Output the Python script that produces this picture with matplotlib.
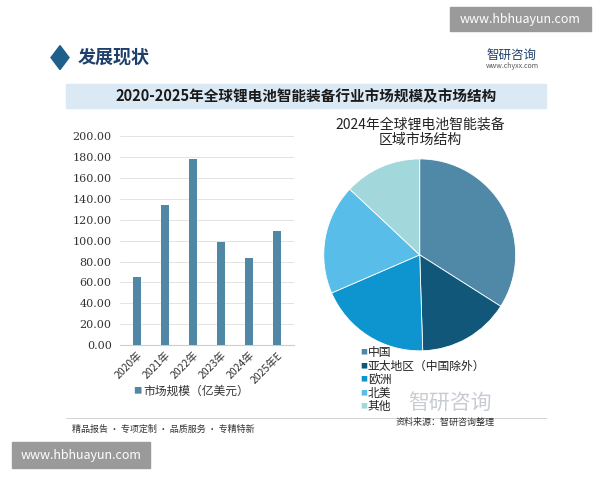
import matplotlib
matplotlib.use("Agg")
import matplotlib.pyplot as plt
from matplotlib.patches import Rectangle, Polygon

plt.rcParams["font.family"] = ["Noto Sans CJK SC", "DejaVu Sans"]

years = ["2020年", "2021年", "2022年", "2023年", "2024年", "2025年E"]
market_size = [65, 134, 178, 99, 83, 109]
regions = ["中国", "亚太地区（中国除外）", "欧洲", "北美", "其他"]
region_share = [34, 15.5, 19, 18.5, 13]
pie_colors = ["#5089a8", "#10577a", "#0e95cf", "#58bde8", "#a2d8dc"]

fig = plt.figure(figsize=(6, 4.8), dpi=100)
fig.patch.set_facecolor("white")

# header
fig.patches.append(Polygon([[0.10, 0.905], [0.115, 0.88], [0.10, 0.855], [0.085, 0.88]],
                           closed=True, transform=fig.transFigure, color="#1f5f8b"))
fig.text(0.13, 0.88, "发展现状", fontsize=13, fontweight="bold", color="#1f3f6b", va="center")
fig.text(0.81, 0.885, "智研咨询", fontsize=9, color="#1f3f6b", va="center")
fig.text(0.81, 0.862, "www.chyxx.com", fontsize=5, color="#555555", va="center")
fig.patches.append(Rectangle((0.75, 0.935), 0.235, 0.05, transform=fig.transFigure,
                             color="#9a9a9a"))
fig.text(0.867, 0.96, "www.hbhuayun.com", fontsize=9, color="white", ha="center", va="center")

# title band
fig.patches.append(Rectangle((0.11, 0.775), 0.80, 0.05, transform=fig.transFigure,
                             color="#dbe9f4"))
fig.text(0.51, 0.80, "2020-2025年全球锂电池智能装备行业市场规模及市场结构",
         fontsize=10.5, fontweight="bold", color="#1a1a1a", ha="center", va="center")

# bar chart
ax = fig.add_axes([0.2, 0.281, 0.29, 0.435])
ax.bar(range(len(years)), market_size, width=0.3, color="#4f87a4", zorder=3)
ax.set_ylim(0, 200)
ax.set_yticks(range(0, 201, 20))
ax.set_yticklabels([f"{v:.2f}" for v in range(0, 201, 20)], fontsize=8,
                   family=["DejaVu Serif"], color="#333333")
ax.set_xticks(range(len(years)))
ax.set_xticklabels(years, rotation=45, ha="right", fontsize=7.5, color="#333333",
                   rotation_mode="anchor")
ax.set_xlim(-0.6, 5.6)
ax.grid(axis="y", color="#e3e3e3", linewidth=0.7, zorder=0)
for s in ax.spines.values():
    s.set_visible(False)
ax.spines["bottom"].set_visible(True)
ax.spines["bottom"].set_color("#cccccc")
ax.tick_params(length=0)
ax.tick_params(axis="y", pad=6)
fig.text(0.222, 0.185, "■", fontsize=6, color="#4f87a4", va="center")
fig.text(0.239, 0.185, "市场规模（亿美元）", fontsize=8.5, color="#333333", va="center")

# pie chart
fig.text(0.70, 0.725, "2024年全球锂电池智能装备\n区域市场结构", fontsize=10, ha="center",
         va="center", color="#222222", linespacing=1.15)
pax = fig.add_axes([0.538, 0.267, 0.323, 0.404])
pax.pie(region_share, colors=pie_colors, startangle=90, counterclock=False,
        wedgeprops=dict(linewidth=0.6, edgecolor="white"))
pax.set_xlim(-1.01, 1.01)
pax.set_ylim(-1.01, 1.01)
pax.set_aspect("equal")
for i, (r, c) in enumerate(zip(regions, pie_colors)):
    y = 0.265 - i * 0.028
    fig.text(0.6, y, "■", fontsize=5, color=c, va="center")
    fig.text(0.613, y, r, fontsize=8.5, color="#222222", va="center")

fig.text(0.68, 0.16, "智研咨询", fontsize=15, color="#c8ccd2", va="center")

# footer
fig.lines.append(plt.Line2D([0.11, 0.91], [0.13, 0.13], transform=fig.transFigure,
                            color="#cccccc", linewidth=0.6))
fig.text(0.12, 0.105, "精品报告 · 专项定制 · 品质服务 · 专精特新", fontsize=6.5, color="#333333",
         va="center")
fig.text(0.66, 0.12, "资料来源：智研咨询整理", fontsize=6.5, color="#333333", va="center")
fig.patches.append(Rectangle((0.02, 0.025), 0.23, 0.055, transform=fig.transFigure,
                             color="#9a9a9a"))
fig.text(0.135, 0.052, "www.hbhuayun.com", fontsize=9, color="white", ha="center", va="center")

fig.savefig("out.png", dpi=100, facecolor="white")
